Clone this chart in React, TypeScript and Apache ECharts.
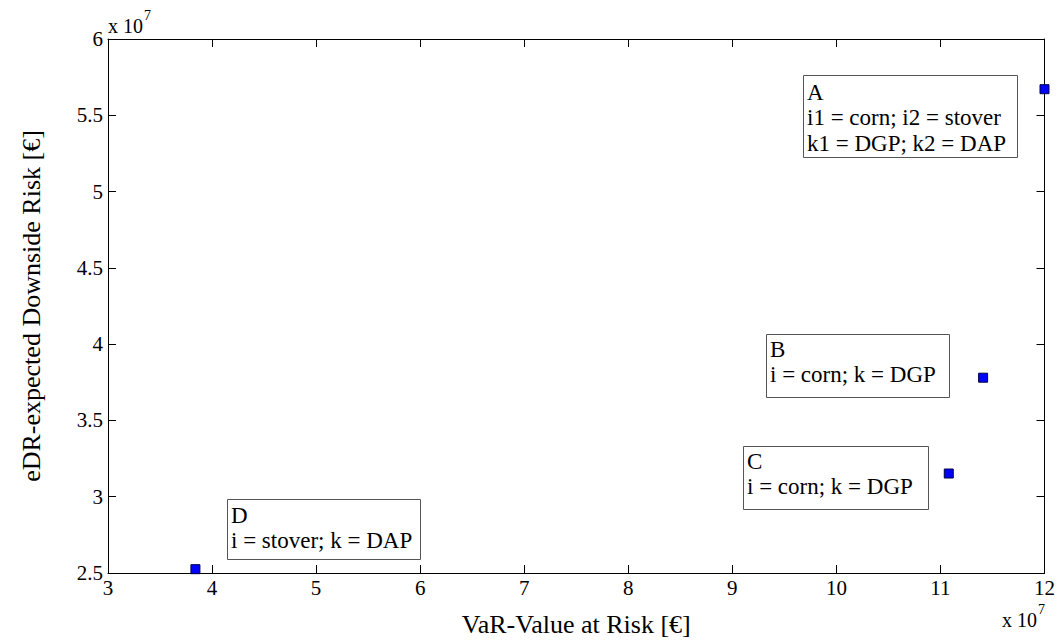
import React, { useEffect, useRef } from "react";
import * as echarts from "echarts";

const pointNames = ["A", "B", "C", "D"];
const varValues = [12.0, 11.41, 11.08, 3.84]; // x 10^7
const edrValues = [5.671, 3.78, 3.152, 2.525]; // x 10^7
const boxLines = [
  ["A", "i1 = corn; i2 = stover", "k1 = DGP; k2 = DAP"],
  ["B", "i = corn; k = DGP"],
  ["C", "i = corn; k = DGP"],
  ["D", "i = stover; k = DAP"],
];
const xTicks = [3, 4, 5, 6, 7, 8, 9, 10, 11, 12];
const yTicks = [2.5, 3, 3.5, 4, 4.5, 5, 5.5, 6];

const FONT = "'Liberation Serif', 'Times New Roman', serif";

export default function App() {
  const ref = useRef<HTMLDivElement>(null);
  useEffect(() => {
    const chart = echarts.init(ref.current!, undefined, { renderer: "svg" });
    const axisCommon = {
      type: "value" as const,
      axisLine: { show: true, onZero: false, lineStyle: { color: "#000", width: 1 } },
      axisTick: { show: true, inside: true, length: 8, lineStyle: { color: "#000" } },
      splitLine: { show: false },
    };
    // annotation box layout (pixels): box rect, first text baseline, line height
    const boxes = [
      { x: 803, y: 75, w: 214, h: 82, base: 100, lh: 25.5 },
      { x: 766, y: 334, w: 183, h: 63, base: 357, lh: 25.5 },
      { x: 743, y: 446, w: 185, h: 63, base: 469, lh: 25.5 },
      { x: 227, y: 499, w: 193, h: 60, base: 523, lh: 25.5 },
    ];
    const BOX_FS = 23;
    const graphics: any[] = [];
    boxes.forEach((b, i) => {
      graphics.push({
        type: "rect",
        shape: { x: b.x + 0.5, y: b.y + 0.5, width: b.w, height: b.h },
        style: { fill: "#fff", stroke: "#555", lineWidth: 1 },
        z: 10,
      });
      graphics.push({
        type: "text",
        x: b.x + 4,
        y: b.base - b.lh / 2 - 0.3375 * BOX_FS,
        style: {
          text: boxLines[i].join("\n"),
          font: `${BOX_FS}px ${FONT}`,
          fill: "#000",
          lineHeight: b.lh,
          verticalAlign: "top",
          align: "left",
        },
        z: 11,
      });
    });
    const exponent = (x: number, baseY: number) => {
      graphics.push({
        type: "text",
        x,
        y: baseY - 0.3375 * 20,
        style: { text: "x 10", font: `20px ${FONT}`, fill: "#000", verticalAlign: "middle" },
      });
      graphics.push({
        type: "text",
        x: x + 36,
        y: baseY - 13 - 0.3375 * 14,
        style: { text: "7", font: `14px ${FONT}`, fill: "#000", verticalAlign: "middle" },
      });
    };
    exponent(108, 33);
    exponent(1002, 627);

    const labelStyle = { fontFamily: FONT, fontSize: 21, color: "#000" };
    chart.setOption({
      animation: false,
      backgroundColor: "#fff",
      grid: { left: 108, right: 13, top: 39, bottom: 67 },
      xAxis: [
        {
          ...axisCommon,
          position: "bottom",
          min: xTicks[0],
          max: xTicks[xTicks.length - 1],
          interval: 1,
          name: "VaR-Value at Risk [€]",
          nameLocation: "middle",
          nameGap: 38,
          nameTextStyle: { fontFamily: FONT, fontSize: 26, color: "#000" },
          axisLabel: { ...labelStyle, margin: 4 },
        },
        {
          ...axisCommon,
          position: "top",
          min: xTicks[0],
          max: xTicks[xTicks.length - 1],
          interval: 1,
          axisLabel: { show: false },
        },
      ],
      yAxis: [
        {
          ...axisCommon,
          position: "left",
          min: yTicks[0],
          max: yTicks[yTicks.length - 1],
          interval: 0.5,
          name: "eDR-expected Downside Risk [€]",
          nameLocation: "middle",
          nameGap: 64,
          nameTextStyle: { fontFamily: FONT, fontSize: 26, color: "#000" },
          axisLabel: { ...labelStyle, margin: 5 },
        },
        {
          ...axisCommon,
          position: "right",
          min: yTicks[0],
          max: yTicks[yTicks.length - 1],
          interval: 0.5,
          axisLabel: { show: false },
        },
      ],
      series: [
        {
          type: "scatter",
          symbol: "rect",
          symbolSize: 9,
          itemStyle: { color: "#0000ff", borderColor: "#000044", borderWidth: 1, opacity: 1 },
          data: varValues.map((v, i) => ({ name: pointNames[i], value: [v, edrValues[i]] })),
          z: 5,
          clip: false,
        },
      ],
      graphic: graphics,
    });
    return () => chart.dispose();
  }, []);
  return (
    <div
      ref={ref}
      style={{ position: "fixed", left: 0, top: 0, width: 1058, height: 642, background: "#fff" }}
    />
  );
}
